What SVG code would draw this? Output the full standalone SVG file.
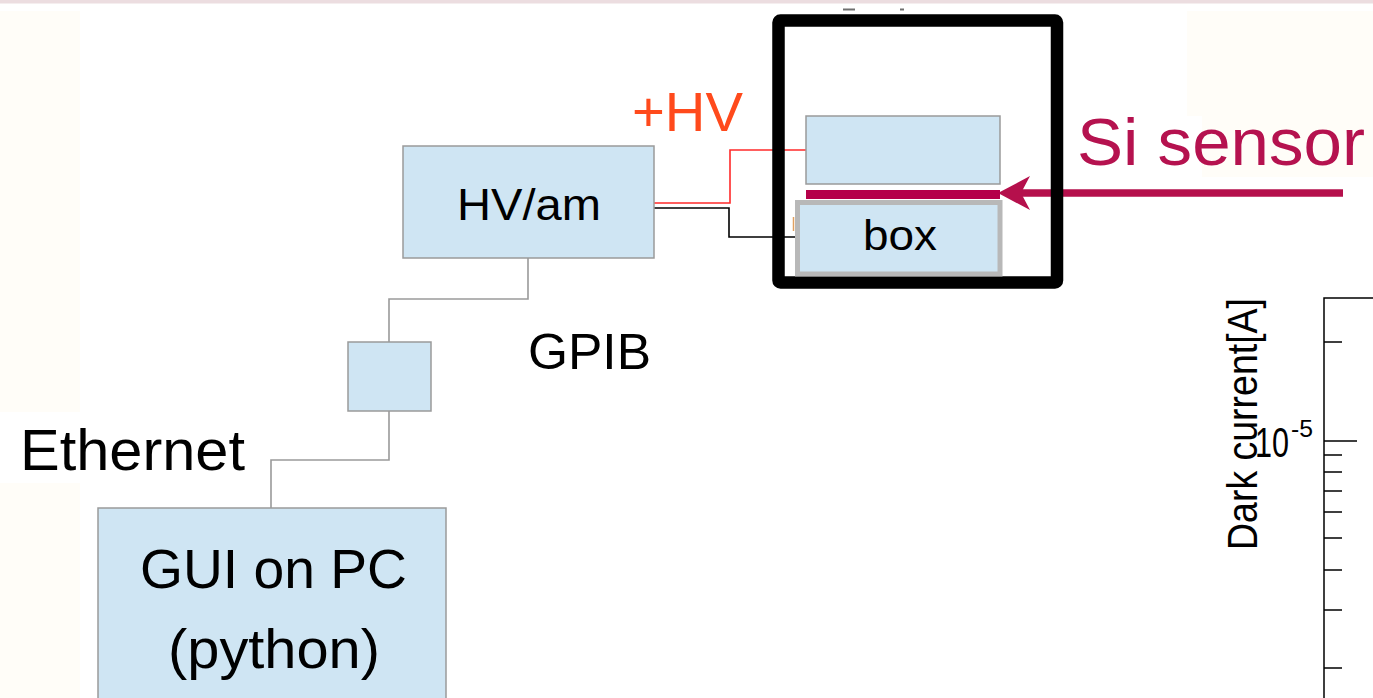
<svg xmlns="http://www.w3.org/2000/svg" width="1373" height="698" viewBox="0 0 1373 698">
  <style>
    .box { fill: #cfe5f3; stroke: #9a9a9a; stroke-width: 1.5; }
    .t { font-family: "Liberation Sans", Arial, sans-serif; fill: #000; }
    .gray { fill: none; stroke: #9a9a9a; stroke-width: 1.6; }
    .tick { stroke: #000; stroke-width: 1.5; fill: none; }
  </style>
  <defs>
    <marker id="arrow" markerUnits="userSpaceOnUse" viewBox="0 0 34 36" markerWidth="34" markerHeight="36" refX="17" refY="18" orient="auto">
      <path d="M34,18 L2,1 L11,18 L2,35 Z" fill="#b5104c"/>
    </marker>
  </defs>

  <!-- background -->
  <rect x="0" y="0" width="1373" height="698" fill="#ffffff"/>
  <rect x="0" y="0" width="1373" height="3.5" fill="#ecdde0"/>
  <rect x="0" y="11" width="80" height="401" fill="#fffdf8"/>
  <rect x="0" y="483" width="80" height="215" fill="#fffdf8"/>
  <rect x="1187" y="11" width="186" height="105" fill="#fffdf8"/>
  <rect x="1202" y="116" width="171" height="61" fill="#fffdf8"/>

  <!-- connectors -->
  <g id="connectors">
    <path class="gray" d="M528,258 V299 H389 V342"/>
    <path class="gray" d="M389,411 V460 H271 V508"/>
    <path d="M654,203 H730 V150 H806" fill="none" stroke="#ff2a2a" stroke-width="1.6"/>
    <path d="M649,208 H729 V237 H797" fill="none" stroke="#000" stroke-width="1.6"/>
    <path d="M1343,193 H1015" fill="none" stroke="#b5104c" stroke-width="7.5" marker-end="url(#arrow)"/>
  </g>

  <!-- dark box enclosure -->
  <g id="darkbox">
    <rect x="778.5" y="20.5" width="278.5" height="262" rx="2" fill="none" stroke="#000" stroke-width="12.5"/>
    <path d="M843,9.5 H855 M900,9.5 H904" stroke="#333" stroke-width="2" opacity="0.7"/>
  </g>

  <g id="upper-plate">
    <rect class="box" x="806" y="116" width="194" height="68"/>
  </g>

  <g id="si-sensor">
    <rect x="806" y="190" width="194" height="9" fill="#b5004a"/>
    <text class="t" x="1077" y="165" font-size="67" style="fill:#b5124f" textLength="288" lengthAdjust="spacingAndGlyphs">Si sensor</text>
  </g>

  <g id="box">
    <rect x="797.5" y="202.5" width="202.5" height="71.5" fill="#cfe5f3" stroke="#b8b8b8" stroke-width="5"/>
    <line x1="793.5" y1="217" x2="793.5" y2="231" stroke="#e0a060" stroke-width="1.5"/>
    <text class="t" x="863" y="250" font-size="42" textLength="74" lengthAdjust="spacingAndGlyphs">box</text>
  </g>

  <g id="hv-label">
    <text class="t" x="632" y="131" font-size="55" style="fill:#ff4a1c" textLength="111" lengthAdjust="spacingAndGlyphs">+HV</text>
  </g>

  <g id="hvam">
    <rect class="box" x="403" y="146" width="251" height="112"/>
    <text class="t" x="457" y="220" font-size="44" textLength="144" lengthAdjust="spacingAndGlyphs">HV/am</text>
  </g>

  <g id="gpib-label">
    <text class="t" x="528" y="369" font-size="50" textLength="123" lengthAdjust="spacingAndGlyphs">GPIB</text>
  </g>

  <g id="converter">
    <rect class="box" x="348" y="342" width="83" height="69"/>
  </g>

  <g id="ethernet-label">
    <text class="t" x="20" y="470" font-size="57" textLength="225" lengthAdjust="spacingAndGlyphs">Ethernet</text>
  </g>

  <g id="gui">
    <rect class="box" x="98" y="508" width="348" height="200"/>
    <text class="t" x="140" y="588" font-size="55" textLength="267" lengthAdjust="spacingAndGlyphs">GUI on PC</text>
    <text class="t" x="168" y="668" font-size="55" textLength="212" lengthAdjust="spacingAndGlyphs">(python)</text>
  </g>

  <g id="chart">
    <path class="tick" d="M1373,298 H1324 V698"/>
    <path class="tick" d="M1324,441 H1357 M1324,342 H1342 M1324,455 H1342 M1324,472 H1342 M1324,491 H1342 M1324,512 H1342 M1324,538 H1342 M1324,570 H1342 M1324,610 H1342 M1324,668 H1342"/>
    <text class="t" x="0" y="0" font-size="43" transform="translate(1257,550) rotate(-90)" textLength="252" lengthAdjust="spacingAndGlyphs">Dark current[A]</text>
    <text class="t" x="1255" y="457" font-size="42" textLength="34" lengthAdjust="spacingAndGlyphs">10</text>
    <text class="t" x="1291" y="437" font-size="23" textLength="22" lengthAdjust="spacingAndGlyphs">-5</text>
  </g>
</svg>
